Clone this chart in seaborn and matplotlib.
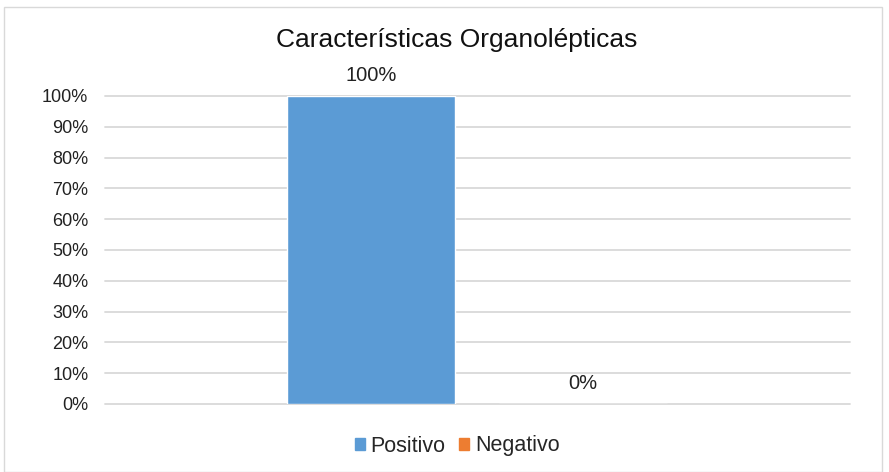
import matplotlib

matplotlib.use("Agg")
import matplotlib.pyplot as plt
import seaborn as sns
import pandas as pd
from matplotlib.patches import Rectangle
from matplotlib.ticker import FuncFormatter, MultipleLocator

series = ["Positivo", "Negativo"]
values = [100, 0]
colors = ["#5B9BD5", "#ED7D31"]
title = "Características Organolépticas"

sns.set_theme(style="white")
plt.rcParams["font.family"] = ["Liberation Sans", "DejaVu Sans"]

df = pd.DataFrame({"serie": series, "valor": values})

fig = plt.figure(figsize=(8.89, 4.72), dpi=100)
ax = fig.add_axes([105 / 889, 1 - 404 / 472, 745 / 889, 308 / 472])

sns.barplot(
    data=df, x="serie", y="valor", hue="serie", palette=colors,
    width=0.79, legend=False, ax=ax, saturation=1, zorder=3,
)

for container in ax.containers:
    ax.bar_label(container, fmt="%g%%", padding=8, fontsize=14.5, color="#222222")

ax.set_xlim(-1.255, 2.26)
ax.set_ylim(0, 100)
ax.yaxis.set_major_locator(MultipleLocator(10))
ax.yaxis.set_major_formatter(FuncFormatter(lambda v, _: f"{v:.0f}%"))
ax.tick_params(axis="y", labelsize=13, colors="#222222", pad=12, length=0)
ax.set_xticks([])
ax.set_xlabel("")
ax.set_ylabel("")
ax.grid(axis="y", color="#d9d9d9", linewidth=1.3)
ax.set_axisbelow(True)
for line in ax.get_ygridlines():
    line.set_clip_on(False)
for spine in ax.spines.values():
    spine.set_visible(False)

fig.text(457 / 889, 1 - 40 / 472, title, ha="center", va="center", fontsize=19, color="#111111")

handles = [Rectangle((0, 0), 1, 1, color=c) for c in colors]
fig.legend(
    handles, series, loc="center", bbox_to_anchor=(457 / 889, 1 - 446 / 472),
    ncol=2, frameon=False, fontsize=15.5, handlelength=0.5, handleheight=0.5,
    handletextpad=0.25, columnspacing=0.6,
)

fig.patches.append(Rectangle((4 / 889, 0), 878 / 889, 1 - 7 / 472, transform=fig.transFigure,
                             fill=False, edgecolor="#d9d9d9", linewidth=1))

fig.savefig("out.png", dpi=100)
